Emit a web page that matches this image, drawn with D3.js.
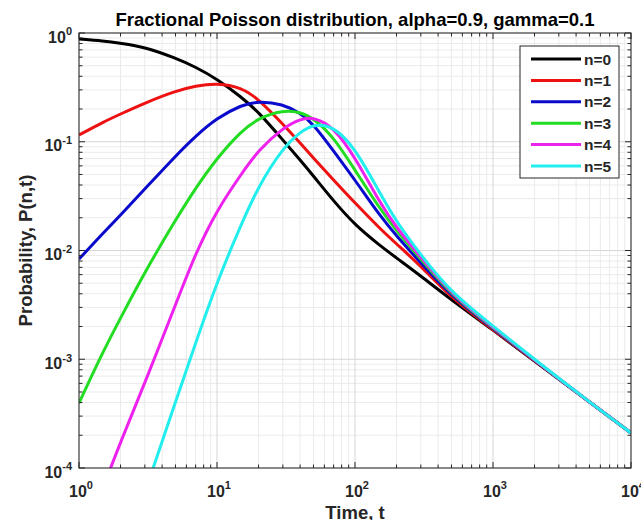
<!DOCTYPE html>
<html>
<head>
<meta charset="utf-8">
<script src="https://cdn.jsdelivr.net/npm/d3@7"></script>
<style>
  body { margin: 0; background: #fff; }
  svg { display: block; font-family: "Liberation Sans", Arial, sans-serif; }
</style>
</head>
<body>
<svg id="chart" width="641" height="520"></svg>
<script>
// values
const tMain = [1, 1.5, 2, 3, 5, 7, 10, 15, 20, 30, 40, 50, 70, 100, 150, 200, 300, 500, 1000, 2000, 5000, 10000];
const tN4 = tMain.slice(1);
const tN5 = tMain.slice(3);

const pN0 = [0.881, 0.844, 0.804, 0.744, 0.589, 0.487, 0.378, 0.258, 0.188, 0.1038, 0.0680, 0.04842, 0.02851, 0.01716, 0.01124, 0.00853, 0.005827, 0.00351, 0.001858, 0.000963, 0.000404, 0.000210];
const pN1 = [0.1153, 0.1519, 0.1799, 0.2272, 0.2928, 0.3255, 0.3469, 0.3153, 0.2472, 0.1456, 0.0974, 0.0709, 0.04449, 0.02734, 0.01610, 0.01148, 0.00720, 0.00366, 0.001858, 0.000974, 0.000404, 0.000210];
const pN2 = [0.00835, 0.01449, 0.02121, 0.03676, 0.07396, 0.1129, 0.1653, 0.2177, 0.2369, 0.2224, 0.1838, 0.1456, 0.0822, 0.04449, 0.02121, 0.01359, 0.00768, 0.00382, 0.00190, 0.000984, 0.000404, 0.000210];
const pN3 = [0.000396, 0.001191, 0.002395, 0.006343, 0.01907, 0.03755, 0.0709, 0.1256, 0.1653, 0.1959, 0.1877, 0.1653, 0.1106, 0.05497, 0.02459, 0.01511, 0.00835, 0.003899, 0.001939, 0.000984, 0.000404, 0.000210];
const pN4 = [0.000067, 0.0001734, 0.000605, 0.003155, 0.00948, 0.02357, 0.05051, 0.0839, 0.1338, 0.1619, 0.1689, 0.1367, 0.07244, 0.02793, 0.01610, 0.00871, 0.003981, 0.001979, 0.000984, 0.000404, 0.000210];
const pN5 = [0.0000594, 0.000404, 0.001410, 0.005133, 0.01752, 0.0392, 0.0876, 0.1229, 0.1456, 0.1396, 0.0876, 0.0345, 0.0183, 0.00909, 0.004066, 0.00202, 0.000995, 0.000404, 0.000210];

const seriesNames = ['n=0', 'n=1', 'n=2', 'n=3', 'n=4', 'n=5'];
const seriesColors = ['#000000', '#ee1111', '#0a0acc', '#22dd22', '#ee22ee', '#22eeee'];
const seriesT = [tMain, tMain, tMain, tMain, tN4, tN5];
const seriesP = [pN0, pN1, pN2, pN3, pN4, pN5];

const xMajor = [1, 10, 100, 1000, 10000];
const xExp = ['0', '1', '2', '3', '4'];
const yMajor = [1e-4, 1e-3, 1e-2, 1e-1, 1];
const yExp = ['-4', '-3', '-2', '-1', '0'];

const pLeft = 79, pRight = 631, pTop = 33, pBottom = 468;
const axisColor = '#262626';

const svg = d3.select('#chart');

const x = d3.scaleLog().domain([1, 1e4]).range([pLeft, pRight]);
const y = d3.scaleLog().domain([1e-4, 1]).range([pBottom, pTop]);

// minor positions: 2..9 within each decade
const xMinor = [];
xMajor.slice(0, -1).forEach(d => { for (let k = 2; k < 10; k++) xMinor.push(d * k); });
const yMinor = [];
yMajor.slice(0, -1).forEach(d => { for (let k = 2; k < 10; k++) yMinor.push(d * k); });

// grid
const grid = svg.append('g');
grid.selectAll(null).data(xMinor).join('line')
  .attr('x1', d => x(d)).attr('x2', d => x(d)).attr('y1', pTop).attr('y2', pBottom)
  .attr('stroke', '#ebebeb').attr('stroke-width', 1);
grid.selectAll(null).data(yMinor).join('line')
  .attr('y1', d => y(d)).attr('y2', d => y(d)).attr('x1', pLeft).attr('x2', pRight)
  .attr('stroke', '#ebebeb').attr('stroke-width', 1);
grid.selectAll(null).data(xMajor).join('line')
  .attr('x1', d => x(d)).attr('x2', d => x(d)).attr('y1', pTop).attr('y2', pBottom)
  .attr('stroke', '#d6d6d6').attr('stroke-width', 1);
grid.selectAll(null).data(yMajor).join('line')
  .attr('y1', d => y(d)).attr('y2', d => y(d)).attr('x1', pLeft).attr('x2', pRight)
  .attr('stroke', '#d6d6d6').attr('stroke-width', 1);

// curves
svg.append('clipPath').attr('id', 'plotClip')
  .append('rect').attr('x', pLeft).attr('y', pTop).attr('width', pRight - pLeft).attr('height', pBottom - pTop);

const line = d3.line()
  .x(d => x(d[0]))
  .y(d => y(d[1]))
  .curve(d3.curveBasis);

svg.append('g').attr('clip-path', 'url(#plotClip)')
  .selectAll('path')
  .data(seriesNames.map((name, i) => seriesT[i].map((t, j) => [t, seriesP[i][j]])))
  .join('path')
  .attr('d', line)
  .attr('fill', 'none')
  .attr('stroke', (d, i) => seriesColors[i])
  .attr('stroke-width', 3)
  .attr('stroke-linejoin', 'round');

// axes box + inward ticks
const axes = svg.append('g');
axes.append('rect')
  .attr('x', pLeft).attr('y', pTop).attr('width', pRight - pLeft).attr('height', pBottom - pTop)
  .attr('fill', 'none').attr('stroke', axisColor).attr('stroke-width', 1);

function xTicks(vals, len) {
  axes.append('g').selectAll('line').data(vals).join('line')
    .attr('x1', d => x(d)).attr('x2', d => x(d)).attr('y1', pBottom).attr('y2', pBottom - len)
    .attr('stroke', axisColor);
  axes.append('g').selectAll('line').data(vals).join('line')
    .attr('x1', d => x(d)).attr('x2', d => x(d)).attr('y1', pTop).attr('y2', pTop + len)
    .attr('stroke', axisColor);
}
function yTicks(vals, len) {
  axes.append('g').selectAll('line').data(vals).join('line')
    .attr('y1', d => y(d)).attr('y2', d => y(d)).attr('x1', pLeft).attr('x2', pLeft + len)
    .attr('stroke', axisColor);
  axes.append('g').selectAll('line').data(vals).join('line')
    .attr('y1', d => y(d)).attr('y2', d => y(d)).attr('x1', pRight).attr('x2', pRight - len)
    .attr('stroke', axisColor);
}
xTicks(xMajor, 6); xTicks(xMinor, 3.5);
yTicks(yMajor, 6); yTicks(yMinor, 3.5);

// tick labels
function powLabel(sel, exp) {
  sel.append('tspan').text('10');
  sel.append('tspan').attr('dy', -7.4).attr('font-size', 11).text(exp);
}
svg.append('g').selectAll('text').data(xMajor).join('text')
  .attr('x', d => x(d) + 2).attr('y', pBottom + 28.7)
  .attr('text-anchor', 'middle').attr('font-size', 16).attr('font-weight', 'bold')
  .attr('fill', axisColor)
  .each(function (d, i) { powLabel(d3.select(this), xExp[i]); });

svg.append('g').selectAll('text').data(yMajor).join('text')
  .attr('x', pLeft - 7).attr('y', d => y(d) + 9.7)
  .attr('text-anchor', 'end').attr('font-size', 16).attr('font-weight', 'bold')
  .attr('fill', axisColor)
  .each(function (d, i) { powLabel(d3.select(this), yExp[i]); });

// titles
svg.append('text')
  .attr('x', (pLeft + pRight) / 2).attr('y', 26)
  .attr('text-anchor', 'middle').attr('font-size', 18.5).attr('font-weight', 'bold')
  .attr('fill', '#000')
  .text('Fractional Poisson distribution, alpha=0.9, gamma=0.1');

svg.append('text')
  .attr('x', (pLeft + pRight) / 2).attr('y', 519)
  .attr('text-anchor', 'middle').attr('font-size', 18.5).attr('font-weight', 'bold')
  .attr('fill', axisColor)
  .text('Time, t');

svg.append('text')
  .attr('transform', `translate(31.5,${(pTop + pBottom) / 2}) rotate(-90)`)
  .attr('text-anchor', 'middle').attr('font-size', 18.5).attr('font-weight', 'bold')
  .attr('fill', axisColor)
  .text('Probability, P(n,t)');

// legend
const lg = svg.append('g');
lg.append('rect')
  .attr('x', 520).attr('y', 46).attr('width', 99).attr('height', 132)
  .attr('fill', '#fff').attr('stroke', axisColor).attr('stroke-width', 1);
const rows = lg.selectAll('g.row').data(seriesNames).join('g')
  .attr('transform', (d, i) => `translate(0,${59 + i * 21.4})`);
rows.append('line')
  .attr('x1', 531).attr('x2', 581).attr('y1', 0).attr('y2', 0)
  .attr('stroke', (d, i) => seriesColors[i]).attr('stroke-width', 3);
rows.append('text')
  .attr('x', 584).attr('y', 5.5)
  .attr('font-size', 15.5).attr('font-weight', 'bold').attr('fill', axisColor)
  .text(d => d);
</script>
</body>
</html>
